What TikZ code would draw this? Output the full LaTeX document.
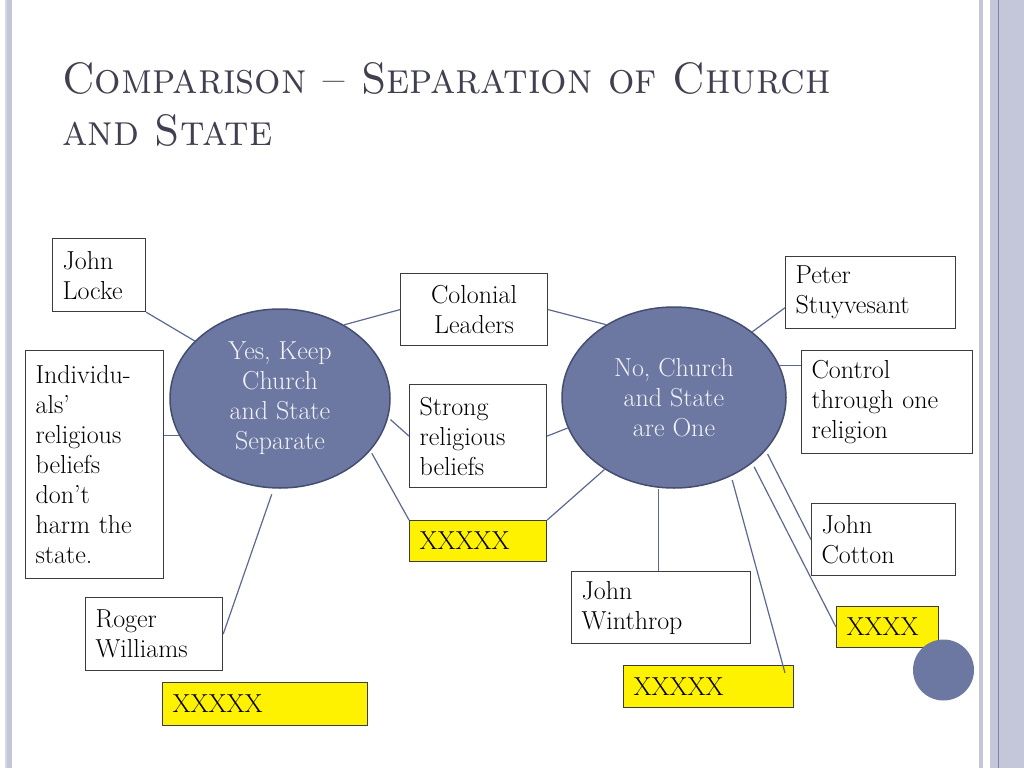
\documentclass[tikz,border=0pt]{standalone}
\usepackage{fontspec}
\usetikzlibrary{shapes.geometric}
\definecolor{ovalfill}{RGB}{108,120,162}
\definecolor{ovalline}{RGB}{68,78,112}
\definecolor{ovaltext}{RGB}{242,242,246}
\definecolor{linkcol}{RGB}{92,104,146}
\definecolor{boxline}{RGB}{60,60,64}
\definecolor{titlecol}{RGB}{64,64,80}
\definecolor{bandlight}{RGB}{214,216,230}
\definecolor{band}{RGB}{196,199,217}
\definecolor{banddark}{RGB}{125,132,164}

\begin{document}
\begin{tikzpicture}[x=1pt, y=-1pt,
	box/.style={draw=boxline, line width=1.2pt, anchor=north west, inner xsep=10pt,
		inner ysep=0pt, align=left, font=\fontsize{26}{30}\selectfont},
	ybox/.style={box, fill=yellow},
	oval/.style={ellipse, draw=ovalline, line width=1.5pt, fill=ovalfill, text=ovaltext,
		align=center, inner sep=0pt, font=\fontsize{26}{30}\selectfont},
	heading/.style={anchor=base west, inner sep=0pt, text=titlecol, font=\fontsize{44}{52}\selectfont},
	link/.style={draw=linkcol, line width=1.2pt}]
	\useasboundingbox (0,0) rectangle (1024,768);
	\fill[white] (0,0) rectangle (1024,768);

	\fill[bandlight] (5,0) rectangle (7,768);
	\fill[band] (7,0) rectangle (12,768);
	\fill[band] (979,0) rectangle (983,768);
	\fill[band] (990,0) rectangle (1024,768);
	\fill[banddark] (997.5,0) rectangle (999,768);

	\node[heading] (title) at (62,93)
		{\scalebox{0.945}[1]{\textsc{Comparison -- Separation of Church}}};
	\node[heading] (titleb) at (62,145) {\scalebox{0.945}[1]{\textsc{and State}}};

	\node[oval, minimum width=220pt, minimum height=179pt] (yes) at (280,398.5)
		{Yes, Keep\\Church\\and State\\Separate};
	\node[oval, minimum width=224pt, minimum height=181pt] (no) at (674,397.5)
		{No, Church\\and State\\are One};

	\node[box, text width=73pt, minimum height=73pt] (locke) at (52,238) {John\\Locke};
	\node[box, text width=118pt, minimum height=228pt] (indiv) at (25,350)
		{Individu-\\als'\\religious\\beliefs\\don't\\harm the\\state.};
	\node[box, text width=117pt, minimum height=73pt] (roger) at (85,597) {Roger\\Williams};
	\node[ybox, text width=185pt, minimum height=43pt] (xleft) at (162,682) {XXXXX};
	\node[box, text width=127pt, minimum height=72pt, align=center] (colonial) at (400,273)
		{Colonial\\Leaders};
	\node[box, text width=117pt, minimum height=103pt] (strong) at (409,384)
		{Strong\\religious\\beliefs};
	\node[ybox, text width=117pt, minimum height=41pt] (xmid) at (409,520) {XXXXX};
	\node[box, text width=159pt, minimum height=72pt] (winthrop) at (571,571) {John\\Winthrop};
	\node[ybox, text width=150pt, minimum height=42pt] (xright) at (623,665) {XXXXX};
	\node[box, text width=150pt, minimum height=72pt] (peter) at (785,256) {Peter\\Stuyvesant};
	\node[box, text width=151pt, minimum height=103pt] (control) at (801,350)
		{Control\\through one\\religion};
	\node[box, text width=124pt, minimum height=72pt] (cotton) at (811,503) {John\\Cotton};
	\node[ybox, text width=82pt, minimum height=41pt] (xcotton) at (836,606) {XXXX};

	\fill[ovalfill] (943.5,670) circle (30.5);
	\coordinate (xrightend) at (785,673);

	\draw[link] (locke.south east) -- (yes.146);
	\draw[link] (yes.200) -- (yes.200 -| indiv.east);
	\draw[link] (yes.49) -- (colonial.west);
	\draw[link] (colonial.east) -- (no.133);
	\draw[link, shorten <=3pt] (yes.350) -- (strong.west);
	\draw[link] (strong.east) -- (no.196);
	\draw[link, shorten <=3pt] (yes.330) -- (xmid.north west);
	\draw[link] (xmid.north east) -- (no.226);
	\draw[link, shorten <=6pt] (yes.266) -- (roger.east);
	\draw[link] (no.40) -- (peter.190);
	\draw[link] (no.17) -- (no.17 -| control.west);
	\draw[link, shorten <=4pt] (no.330) -- (cotton.west);
	\draw[link, shorten <=4pt] (no.320) -- (xcotton.west);
	\draw[link] ([xshift=-3pt]winthrop.north) -- ([xshift=-3pt]winthrop.north |- no.south);
	\draw[link, shorten <=4pt] (no.306) -- (xrightend);
\end{tikzpicture}
\end{document}
